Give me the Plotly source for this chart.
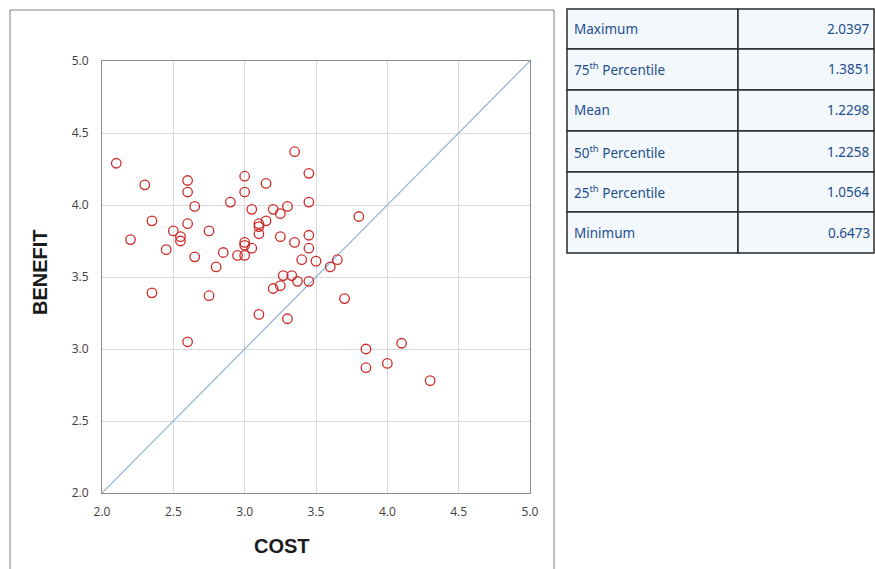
import plotly.graph_objects as go

# ---- data ----
cost = [2.10, 2.30, 2.60, 2.60, 3.00, 3.00, 3.35, 3.45, 3.15, 2.90,
        2.65, 2.35, 2.60, 3.05, 3.20, 3.30, 3.25, 3.45, 3.80, 3.10,
        3.10, 3.15, 3.10, 2.50, 2.75, 2.55, 2.55, 2.20, 3.00, 3.00,
        3.05, 3.25, 3.35, 3.45, 3.45, 2.45, 2.85, 2.95, 3.00, 2.65,
        3.40, 3.50, 3.65, 3.60, 2.80, 3.27, 3.33, 3.37, 3.45, 3.25,
        3.20, 2.35, 2.75, 3.70, 3.10, 3.30, 2.60, 4.10, 3.85, 4.00,
        3.85, 4.30]
benefit = [4.29, 4.14, 4.17, 4.09, 4.20, 4.09, 4.37, 4.22, 4.15, 4.02,
           3.99, 3.89, 3.87, 3.97, 3.97, 3.99, 3.94, 4.02, 3.92, 3.87,
           3.85, 3.89, 3.80, 3.82, 3.82, 3.78, 3.75, 3.76, 3.74, 3.72,
           3.70, 3.78, 3.74, 3.79, 3.70, 3.69, 3.67, 3.65, 3.65, 3.64,
           3.62, 3.61, 3.62, 3.57, 3.57, 3.51, 3.51, 3.47, 3.47, 3.44,
           3.42, 3.39, 3.37, 3.35, 3.24, 3.21, 3.05, 3.04, 3.00, 2.90,
           2.87, 2.78]
diag = [2.0, 5.0]
tick_vals = [2.0, 2.5, 3.0, 3.5, 4.0, 4.5, 5.0]
tick_text = ["2.0", "2.5", "3.0", "3.5", "4.0", "4.5", "5.0"]
stat_labels = ["Maximum", "75<sup>th</sup> Percentile", "Mean",
               "50<sup>th</sup> Percentile", "25<sup>th</sup> Percentile", "Minimum"]
stat_values = ["2.0397", "1.3851", "1.2298", "1.2258", "1.0564", "0.6473"]

W, H = 875, 569
def px(x):
    return x / W
def py(y):
    return 1 - y / H

fig = go.Figure()
fig.add_trace(go.Scatter(x=diag, y=diag, mode="lines",
                         line=dict(color="#8fb3d9", width=1.2),
                         hoverinfo="skip", showlegend=False))
fig.add_trace(go.Scatter(x=cost, y=benefit, mode="markers",
                         marker=dict(symbol="circle-open", size=9.5,
                                     color="#cc2a2a", line=dict(width=1.3, color="#cc2a2a")),
                         showlegend=False))

axis_common = dict(range=[2, 5], tickvals=tick_vals, ticktext=tick_text,
                   showgrid=True, gridcolor="#d9d9d9", gridwidth=1,
                   showline=True, linecolor="#8c8c8c", linewidth=1, mirror=True,
                   zeroline=False, ticks="", automargin=False,
                   tickfont=dict(family="Open Sans", size=12, color="#404040"))
fig.update_layout(
    width=W, height=H,
    margin=dict(l=0, r=0, t=0, b=0),
    paper_bgcolor="white", plot_bgcolor="white",
    xaxis=dict(domain=[px(102), px(530)], ticklabelstandoff=8, **axis_common),
    yaxis=dict(domain=[py(493), py(61)], ticklabelstandoff=10, **axis_common),
)

shapes = []
# outer chart frame
shapes.append(dict(type="rect", xref="paper", yref="paper",
                   x0=px(10), x1=px(554), y0=py(585), y1=py(10),
                   line=dict(color="#7f7f7f", width=1), fillcolor="rgba(0,0,0,0)", layer="below"))

annotations = [
    dict(text="<b>COST</b>", x=px(282), y=py(546), xref="paper", yref="paper",
         showarrow=False, font=dict(family="Liberation Sans", size=20, color="#1a1a1a"),
         xanchor="center", yanchor="middle"),
    dict(text="<b>BENEFIT</b>", x=px(40), y=py(272), xref="paper", yref="paper",
         showarrow=False, textangle=-90,
         font=dict(family="Liberation Sans", size=20, color="#1a1a1a"),
         xanchor="center", yanchor="middle"),
]

# statistics table
tx0, tx1, tmid = 567, 874, 738
row_edges = [9, 49, 90, 131, 172, 212, 253]
for i in range(len(stat_labels)):
    y0, y1 = row_edges[i], row_edges[i + 1]
    for (a, b) in [(tx0, tmid), (tmid, tx1)]:
        shapes.append(dict(type="rect", xref="paper", yref="paper",
                           x0=px(a), x1=px(b), y0=py(y1), y1=py(y0),
                           line=dict(color="#2b2b2b", width=1.5), fillcolor="#f2f8fc"))
    yc = (y0 + y1) / 2
    annotations.append(dict(text=stat_labels[i], x=px(572), y=py(yc), xref="paper", yref="paper",
                            showarrow=False, xanchor="left", yanchor="middle",
                            font=dict(family="Noto Sans", size=13.5, color="#1f4e8c")))
    annotations.append(dict(text=stat_values[i], x=px(872), y=py(yc), xref="paper", yref="paper",
                            showarrow=False, xanchor="right", yanchor="middle",
                            font=dict(family="Noto Sans", size=13.5, color="#1f4e8c")))

fig.update_layout(shapes=shapes, annotations=annotations)
fig.write_html("out.html", config={"displayModeBar": False},
               post_script="document.body.style.margin='0';document.body.style.overflow='hidden';")
